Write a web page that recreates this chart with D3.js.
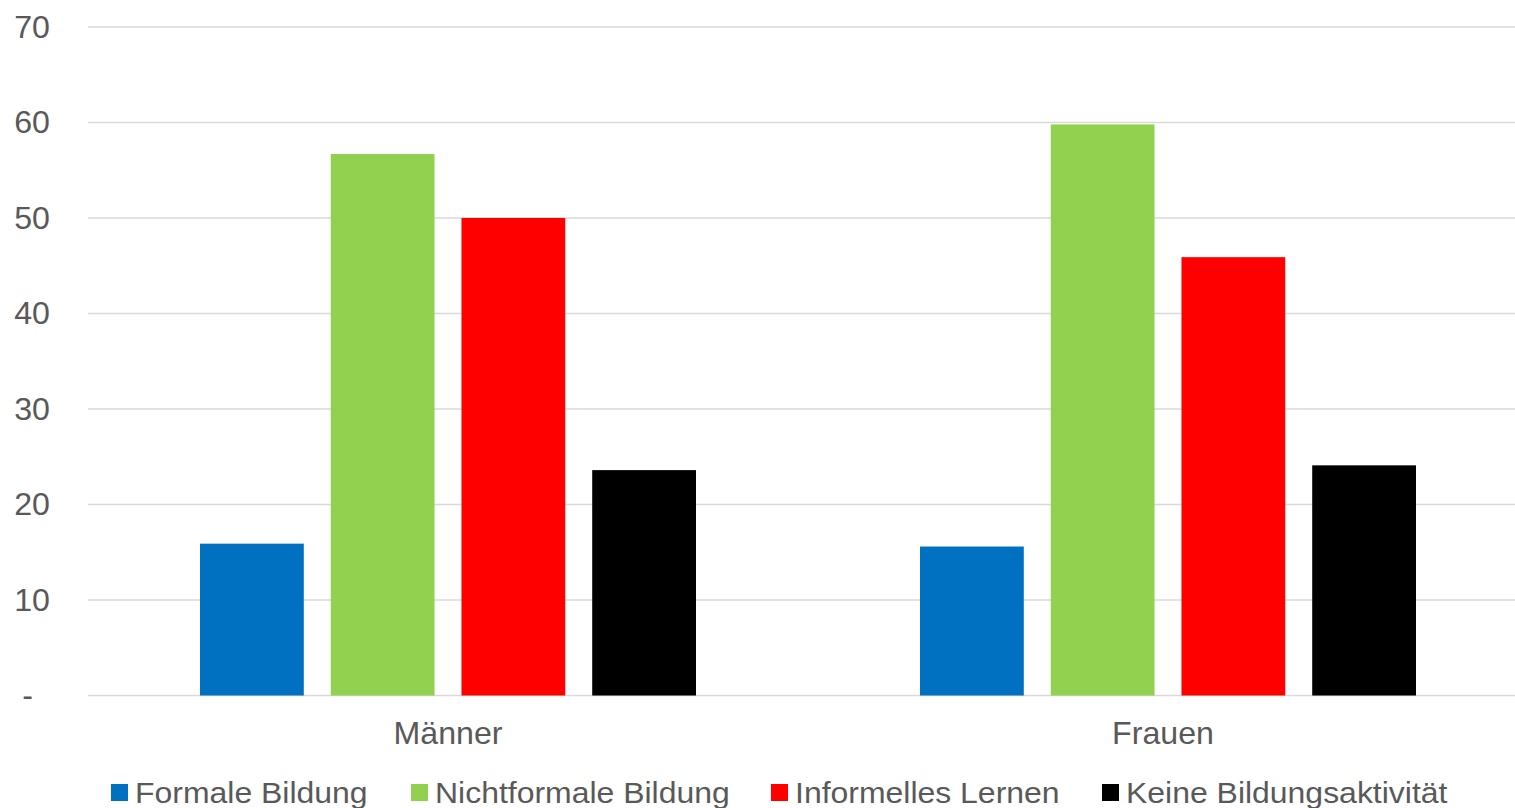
<!DOCTYPE html>
<html><head><meta charset="utf-8">
<script src="https://cdn.jsdelivr.net/npm/d3@7"></script>
<style>
html,body{margin:0;padding:0;background:#fff;overflow:hidden;}
text{font-family:"Liberation Sans",Arial,sans-serif;fill:#595959;}
</style></head>
<body>
<svg id="chart" width="1515" height="808"></svg>
<script>
const categories = ["Männer", "Frauen"];
const seriesNames = ["Formale Bildung", "Nichtformale Bildung", "Informelles Lernen", "Keine Bildungsaktivität"];
const seriesColors = ["#0070C0", "#92D050", "#FF0000", "#000000"];
const formaleBildung = [15.9, 15.6];
const nichtformaleBildung = [56.7, 59.8];
const informellesLernen = [50.0, 45.9];
const keineBildungsaktivitaet = [23.6, 24.1];
const yTicks = [0, 10, 20, 30, 40, 50, 60, 70];

const seriesValues = [formaleBildung, nichtformaleBildung, informellesLernen, keineBildungsaktivitaet];

(function () {
const svg = d3.select("#chart");
const W = 1515;
const mLeft = 88, mRight = 1528, mTop = 27, mBottom = 695.5;
const sx = 1.055;

const x = d3.scaleBand().domain(categories).range([mLeft, mRight]).paddingInner(0).paddingOuter(0);
const xs = d3.scaleBand().domain(seriesNames).range([112, 608]).paddingInner(27/131).paddingOuter(0);
const y = d3.scaleLinear().domain([0, 70]).range([mBottom, mTop]);

// gridlines
svg.append("g").selectAll("line").data(yTicks).join("line")
  .attr("x1", mLeft).attr("x2", W)
  .attr("y1", d => y(d)).attr("y2", d => y(d))
  .attr("stroke", "#d9d9d9").attr("stroke-width", 1.5);

// y tick labels
svg.append("g").selectAll("text").data(yTicks).join("text")
  .attr("transform", d => `translate(${d === 0 ? 33 : 50},${y(d)}) scale(${sx},1)`)
  .attr("dy", "0.35em")
  .attr("text-anchor", "end")
  .attr("font-size", 30.5)
  .text(d => d === 0 ? "-" : d);

// bars
const groups = svg.append("g").selectAll("g").data(categories).join("g")
  .attr("transform", c => `translate(${x(c)},0)`);
groups.selectAll("rect").data((c, ci) => seriesNames.map((s, si) => ({s, si, v: seriesValues[si][ci]})))
  .join("rect")
  .attr("x", d => xs(d.s))
  .attr("width", xs.bandwidth())
  .attr("y", d => y(d.v))
  .attr("height", d => y(0) - y(d.v))
  .attr("fill", d => seriesColors[d.si]);

// category labels
svg.append("g").selectAll("text").data(categories).join("text")
  .attr("transform", (c, i) => `translate(${x(c) + x.bandwidth() / 2 - (i === 1 ? 5 : 0)},744) scale(${sx},1)`)
  .attr("text-anchor", "middle")
  .attr("font-size", 30.5)
  .text(c => c);

// legend
const legendX = [111, 411, 771, 1102];
const lg = svg.append("g").selectAll("g").data(seriesNames).join("g")
  .attr("transform", (d, i) => `translate(${legendX[i]},0)`);
lg.append("rect").attr("x", 0).attr("y", 784).attr("width", 17).attr("height", 17)
  .attr("fill", (d, i) => seriesColors[i]);
lg.append("text").attr("transform", `translate(24,803) scale(1.065,1)`).attr("font-size", 30).text(d => d);
})();
</script>
</body></html>
